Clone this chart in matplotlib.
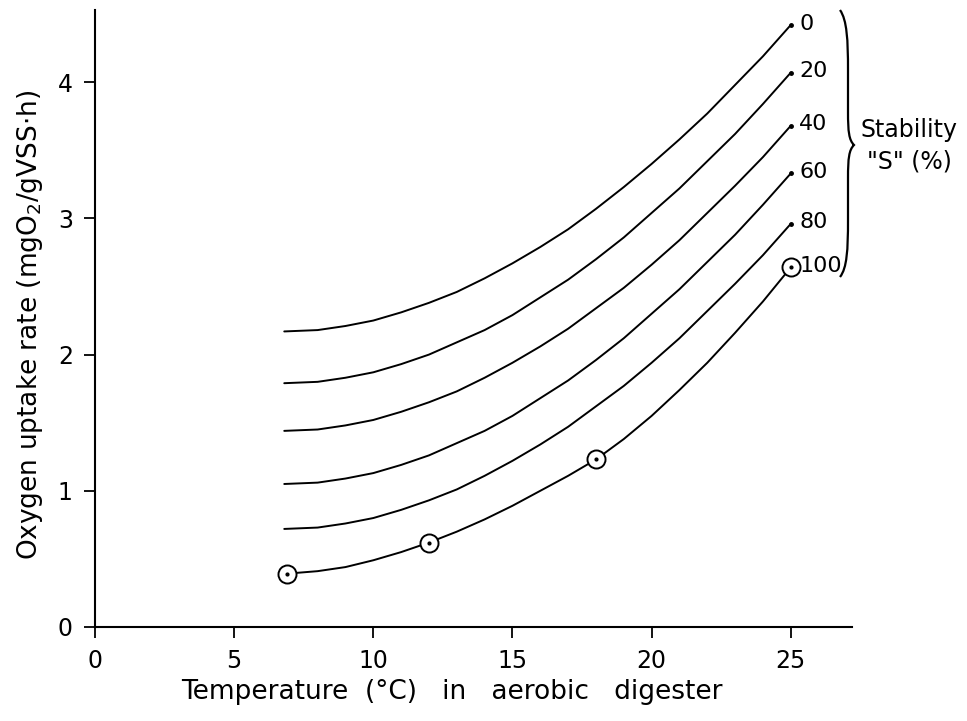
import matplotlib
matplotlib.use("Agg")
import matplotlib.pyplot as plt
from matplotlib.path import Path
from matplotlib.patches import PathPatch

plt.rcParams['font.family'] = ['DejaVu Sans']

# ---- data ----
temps = [6.8, 8, 9, 10, 11, 12, 13, 14, 15, 16, 17, 18, 19, 20, 21, 22, 23, 24, 25]

s0   = [2.17, 2.18, 2.21, 2.25, 2.31, 2.38, 2.46, 2.56, 2.67, 2.79, 2.92, 3.07, 3.23, 3.40, 3.58, 3.77, 3.98, 4.19, 4.42]
s20  = [1.79, 1.80, 1.83, 1.87, 1.93, 2.00, 2.09, 2.18, 2.29, 2.42, 2.55, 2.70, 2.86, 3.04, 3.22, 3.42, 3.62, 3.84, 4.07]
s40  = [1.44, 1.45, 1.48, 1.52, 1.58, 1.65, 1.73, 1.83, 1.94, 2.06, 2.19, 2.34, 2.49, 2.66, 2.84, 3.04, 3.24, 3.45, 3.68]
s60  = [1.05, 1.06, 1.09, 1.13, 1.19, 1.26, 1.35, 1.44, 1.55, 1.68, 1.81, 1.96, 2.12, 2.30, 2.48, 2.68, 2.88, 3.10, 3.33]
s80  = [0.72, 0.73, 0.76, 0.80, 0.86, 0.93, 1.01, 1.11, 1.22, 1.34, 1.47, 1.62, 1.77, 1.94, 2.12, 2.32, 2.52, 2.73, 2.96]
s100 = [0.39, 0.41, 0.44, 0.49, 0.55, 0.62, 0.70, 0.79, 0.89, 1.00, 1.11, 1.23, 1.38, 1.55, 1.74, 1.94, 2.16, 2.39, 2.64]

stability_labels = ["0", "20", "40", "60", "80", "100"]

obs_temp = [6.9, 12, 18, 25]
obs_rate = [0.39, 0.62, 1.23, 2.64]

xticks = [0, 5, 10, 15, 20, 25]
yticks = [0, 1, 2, 3, 4]

W, H = 967, 721
fig = plt.figure(figsize=(W / 100, H / 100), dpi=100)
ax = fig.add_axes([95 / W, 1 - 627 / H, (852 - 95) / W, (627 - 10) / H])
ax.set_xlim(0, 27.2)
ax.set_ylim(0, 4.53)

lw = 1.4
curves = [s0, s20, s40, s60, s80, s100]
for vals, lab in zip(curves, stability_labels):
    ax.plot(temps, vals, color='black', lw=lw, solid_capstyle='round')
    if lab != "100":
        ax.plot([temps[-1]], [vals[-1]], marker='o', ms=2.5, color='black')
    ax.annotate(lab, (temps[-1], vals[-1]), xytext=(6 if lab != "100" else 6.5, 1),
                textcoords='offset points', ha='left', va='center', fontsize=16)

ax.plot(obs_temp, obs_rate, linestyle='none', marker='o', ms=13, mfc='white',
        mec='black', mew=1.4, zorder=5)
ax.plot(obs_temp, obs_rate, linestyle='none', marker='o', ms=2, color='black', zorder=6)

for s in ['top', 'right']:
    ax.spines[s].set_visible(False)
for s in ['left', 'bottom']:
    ax.spines[s].set_linewidth(1.5)

ax.set_xticks(xticks)
ax.set_yticks(yticks)
ax.tick_params(axis='both', direction='out', length=8, width=1.3, labelsize=17)
ax.tick_params(axis='x', pad=8)
ax.tick_params(axis='y', pad=8)

fig.text(452 / W, 1 - 692 / H, 'Temperature  (°C)   in   aerobic   digester',
         ha='center', va='center', fontsize=19)
fig.text(30 / W, 1 - 325 / H, r'Oxygen uptake rate (mgO$_2$/gVSS$\cdot$h)',
         ha='center', va='center', rotation=90, fontsize=19)

# curly brace
def P(x, y):
    return (x / W, 1 - y / H)

verts = [P(840, 10), P(847, 20), P(848, 40), P(848, 70),
         P(848, 112),
         P(848, 132), P(849, 140), P(854, 145),
         P(849, 150), P(848, 158), P(848, 178),
         P(848, 220),
         P(848, 250), P(847, 268), P(840, 277)]
codes = [Path.MOVETO, Path.CURVE4, Path.CURVE4, Path.CURVE4,
         Path.LINETO,
         Path.CURVE4, Path.CURVE4, Path.CURVE4,
         Path.CURVE4, Path.CURVE4, Path.CURVE4,
         Path.LINETO,
         Path.CURVE4, Path.CURVE4, Path.CURVE4]
brace = PathPatch(Path(verts, codes), facecolor='none', edgecolor='black', lw=1.6,
                  transform=fig.transFigure)
fig.add_artist(brace)

fig.text(909 / W, 1 - 130 / H, 'Stability', ha='center', va='center', fontsize=17)
fig.text(909 / W, 1 - 162 / H, '"S" (%)', ha='center', va='center', fontsize=17)

fig.savefig('out.png', dpi=100)
